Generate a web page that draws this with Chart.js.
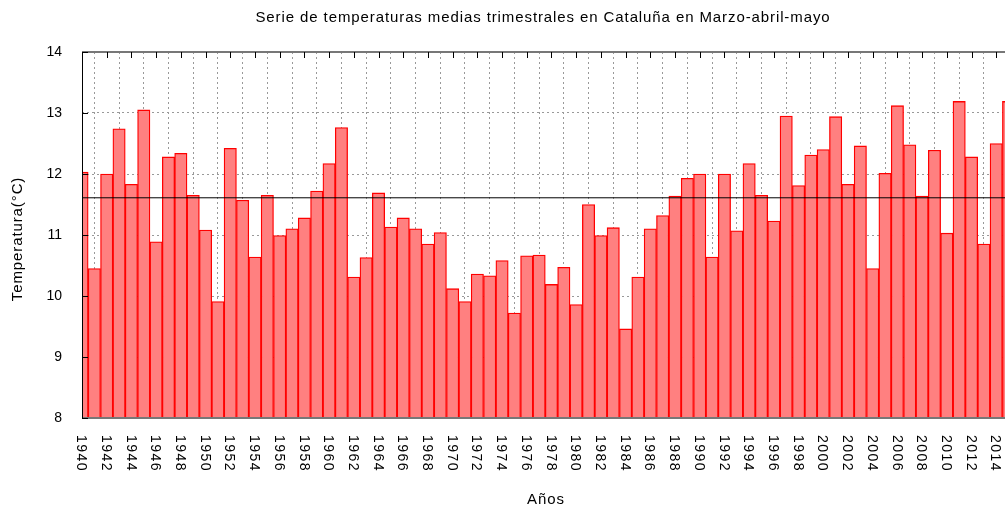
<!DOCTYPE html>
<html>
<head>
<meta charset="utf-8">
<script src="https://cdn.jsdelivr.net/npm/chart.js@4/dist/chart.umd.min.js"></script>
<style>
  html, body { margin: 0; padding: 0; background: #fff; }
  #wrap { width: 1005px; height: 508px; position: relative; }
</style>
</head>
<body>
<div id="wrap"><canvas id="tempChart"></canvas></div>
<script>
// Serie de temperaturas medias (marzo-abril-mayo), Cataluña
const years = [
  1940, 1941, 1942, 1943, 1944, 1945, 1946, 1947, 1948, 1949,
  1950, 1951, 1952, 1953, 1954, 1955, 1956, 1957, 1958, 1959,
  1960, 1961, 1962, 1963, 1964, 1965, 1966, 1967, 1968, 1969,
  1970, 1971, 1972, 1973, 1974, 1975, 1976, 1977, 1978, 1979,
  1980, 1981, 1982, 1983, 1984, 1985, 1986, 1987, 1988, 1989,
  1990, 1991, 1992, 1993, 1994, 1995, 1996, 1997, 1998, 1999,
  2000, 2001, 2002, 2003, 2004, 2005, 2006, 2007, 2008, 2009,
  2010, 2011, 2012, 2013, 2014, 2015
];
const temps = [
  12.03, 10.45, 12.00, 12.74, 11.83, 13.05, 10.89, 12.28, 12.34, 11.65,
  11.08,  9.91, 12.42, 11.57, 10.64, 11.65, 10.99, 11.10, 11.28, 11.72,
  12.17, 12.76, 10.31, 10.63, 11.69, 11.13, 11.28, 11.10, 10.85, 11.04,
  10.12,  9.91, 10.36, 10.33, 10.58,  9.72, 10.66, 10.67, 10.19, 10.47,
   9.86, 11.50, 10.99, 11.12,  9.46, 10.31, 11.10, 11.32, 11.64, 11.93,
  12.00, 10.64, 12.00, 11.07, 12.17, 11.65, 11.23, 12.95, 11.81, 12.31,
  12.40, 12.94, 11.83, 12.46, 10.45, 12.01, 13.12, 12.48, 11.64, 12.39,
  11.03, 13.19, 12.28, 10.85, 12.50, 13.19
];
const meanTemp = 11.61;

const xMin = 1940, xMax = 2014.71, xStep = 2;
const yMin = 8, yMax = 14, yStep = 1;

const chartTitle = 'Serie de temperaturas medias trimestrales en Cataluña en Marzo-abril-mayo';
const xTitle = 'Años';
const yTitle = 'Temperatura(°C)';
const FONT = '"Liberation Sans", Arial, sans-serif';

const barPoints = years.map((yr, i) => ({ x: yr, y: temps[i] }));
const meanPoints = [{ x: years[0], y: meanTemp }, { x: years[years.length - 1], y: meanTemp }];

// gnuplot-like frame, inward ticks, rotated year labels and titles
const decorations = {
  id: 'decorations',
  afterDraw(chart) {
    const { ctx, chartArea: a, scales } = chart;
    const xs = scales.x, ys = scales.y;
    ctx.save();

    // frame
    ctx.strokeStyle = '#777';
    ctx.lineWidth = 2;
    ctx.beginPath();
    ctx.moveTo(a.left, a.top); ctx.lineTo(a.right + 2, a.top);
    ctx.moveTo(a.left, a.bottom); ctx.lineTo(a.right + 2, a.bottom);
    ctx.stroke();
    ctx.strokeStyle = '#000';
    ctx.lineWidth = 1;
    ctx.beginPath();
    ctx.moveTo(a.left + 0.5, a.top); ctx.lineTo(a.left + 0.5, a.bottom);
    ctx.stroke();

    // inward ticks
    ctx.strokeStyle = '#000';
    ctx.beginPath();
    xs.ticks.forEach(t => {
      const x = Math.round(xs.getPixelForValue(t.value)) + 0.5;
      ctx.moveTo(x, a.top); ctx.lineTo(x, a.top + 6);
    });
    ys.ticks.forEach(t => {
      const y = Math.round(ys.getPixelForValue(t.value)) + 0.5;
      ctx.moveTo(a.left, y); ctx.lineTo(a.left + 6, y);
    });
    ctx.stroke();

    // year labels, rotated clockwise
    ctx.fillStyle = '#000';
    ctx.font = '14px ' + FONT;
    ctx.letterSpacing = '1.5px';
    ctx.textAlign = 'left';
    ctx.textBaseline = 'middle';
    xs.ticks.forEach(t => {
      const x = xs.getPixelForValue(t.value);
      ctx.save();
      ctx.translate(x - 1, a.bottom + 17);
      ctx.rotate(Math.PI / 2);
      ctx.fillText(String(t.value), 0, 0);
      ctx.restore();
    });

    // titles
    ctx.letterSpacing = '0.9px';
    ctx.textAlign = 'center';
    ctx.font = '15px ' + FONT;
    ctx.fillText(chartTitle, 543, 18);
    ctx.fillText(xTitle, 546, 500);

    ctx.save();
    ctx.translate(18, (a.top + a.bottom) / 2 + 4);
    ctx.rotate(-Math.PI / 2);
    ctx.fillText(yTitle, 0, 0);
    ctx.restore();

    ctx.restore();
  }
};

new Chart(document.getElementById('tempChart'), {
  data: {
    datasets: [
      {
        type: 'line',
        data: meanPoints,
        borderColor: '#000',
        borderWidth: 1,
        pointRadius: 0,
        order: 0,
        clip: 0
      },
      {
        type: 'bar',
        data: barPoints,
        backgroundColor: '#ff8080',
        borderColor: '#ff0000',
        borderWidth: 1.3,
        borderSkipped: false,
        barPercentage: 1,
        categoryPercentage: 1,
        order: 1,
        clip: 0
      }
    ]
  },
  options: {
    responsive: true,
    maintainAspectRatio: false,
    animation: false,
    layout: { padding: { top: 52, bottom: 90, left: 0, right: 0 } },
    plugins: {
      legend: { display: false },
      title: { display: false },
      tooltip: { enabled: false }
    },
    scales: {
      x: {
        type: 'linear',
        min: xMin,
        max: xMax,
        offset: false,
        border: { display: false, dash: [2, 3] },
        grid: { color: '#999', drawTicks: false },
        ticks: { display: false, stepSize: xStep, includeBounds: false, autoSkip: false }
      },
      y: {
        min: yMin,
        max: yMax,
        border: { display: false, dash: [2, 3] },
        grid: { color: '#999', drawTicks: false },
        ticks: {
          stepSize: yStep,
          padding: 20,
          color: '#000',
          font: { family: FONT, size: 14 }
        },
        afterFit(scale) { scale.width = 82; }
      }
    }
  },
  plugins: [decorations]
});
</script>
</body>
</html>
